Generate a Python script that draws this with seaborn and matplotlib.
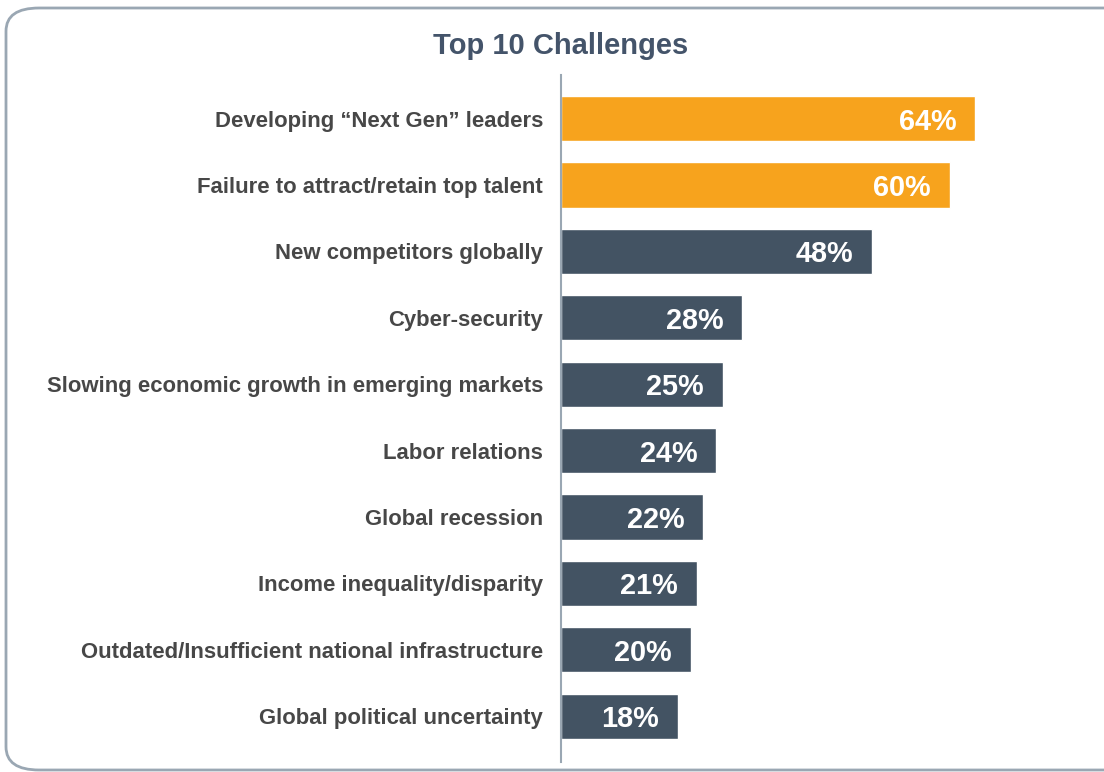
import matplotlib
matplotlib.use("Agg")
import matplotlib.pyplot as plt
import seaborn as sns
import pandas as pd
from matplotlib.patches import FancyBboxPatch

# dati
challenges = [
    "Developing \u201cNext Gen\u201d leaders",
    "Failure to attract/retain top talent",
    "New competitors globally",
    "Cyber-security",
    "Slowing economic growth in emerging markets",
    "Labor relations",
    "Global recession",
    "Income inequality/disparity",
    "Outdated/Insufficient national infrastructure",
    "Global political uncertainty",
]
values = [64, 60, 48, 28, 25, 24, 22, 21, 20, 18]
highlight = [True, True, False, False, False, False, False, False, False, False]

ORANGE = "#F7A31D"
SLATE = "#435363"
TITLE_COL = "#44546A"
LABEL_COL = "#474747"
LINE_COL = "#9AA7B3"

df = pd.DataFrame({"challenge": challenges, "value": values,
                   "group": ["top" if h else "other" for h in highlight]})

sns.set_style("white")
plt.rcParams["font.family"] = ["Liberation Sans", "DejaVu Sans"]

fig = plt.figure(figsize=(11.04, 7.72), dpi=100)
W, H = 1104, 772

# cornice arrotondata
frame = FancyBboxPatch((6 / W, 2 / H), 1.2, (H - 10) / H,
                       boxstyle="round,pad=0,rounding_size=0.03",
                       transform=fig.transFigure, fill=False,
                       edgecolor=LINE_COL, linewidth=2, clip_on=False)
fig.patches.append(frame)

ax = fig.add_axes([561 / W, 10 / H, (1079 - 561) / W, (762 - 75) / H])
sns.barplot(data=df, x="value", y="challenge", hue="group",
            palette={"top": ORANGE, "other": SLATE}, width=0.68,
            dodge=False, legend=False, ax=ax, saturation=1)

ax.set_xlim(0, 80)
ax.set_ylim(9.688, -0.655)
ax.set_xlabel("")
ax.set_ylabel("")
ax.set_xticks([])
for s in ["top", "right", "bottom"]:
    ax.spines[s].set_visible(False)
ax.spines["left"].set_color(LINE_COL)
ax.spines["left"].set_linewidth(1.5)
ax.tick_params(axis="y", length=0, pad=13)
for lbl in ax.get_yticklabels():
    lbl.set_fontsize(15.9)
    lbl.set_fontweight("bold")
    lbl.set_color(LABEL_COL)

# etichette valori dentro le barre
for i, v in enumerate(values):
    ax.annotate(f"{v}%", xy=(v, i), xytext=(-19, -3), textcoords="offset pixels",
                ha="right", va="center", color="white",
                fontsize=20.8, fontweight="bold")

fig.text(561 / W, 1 - 46 / H, "Top 10 Challenges", ha="center", va="center",
         fontsize=21, fontweight="bold", color=TITLE_COL)

fig.savefig("out.png", dpi=100)
